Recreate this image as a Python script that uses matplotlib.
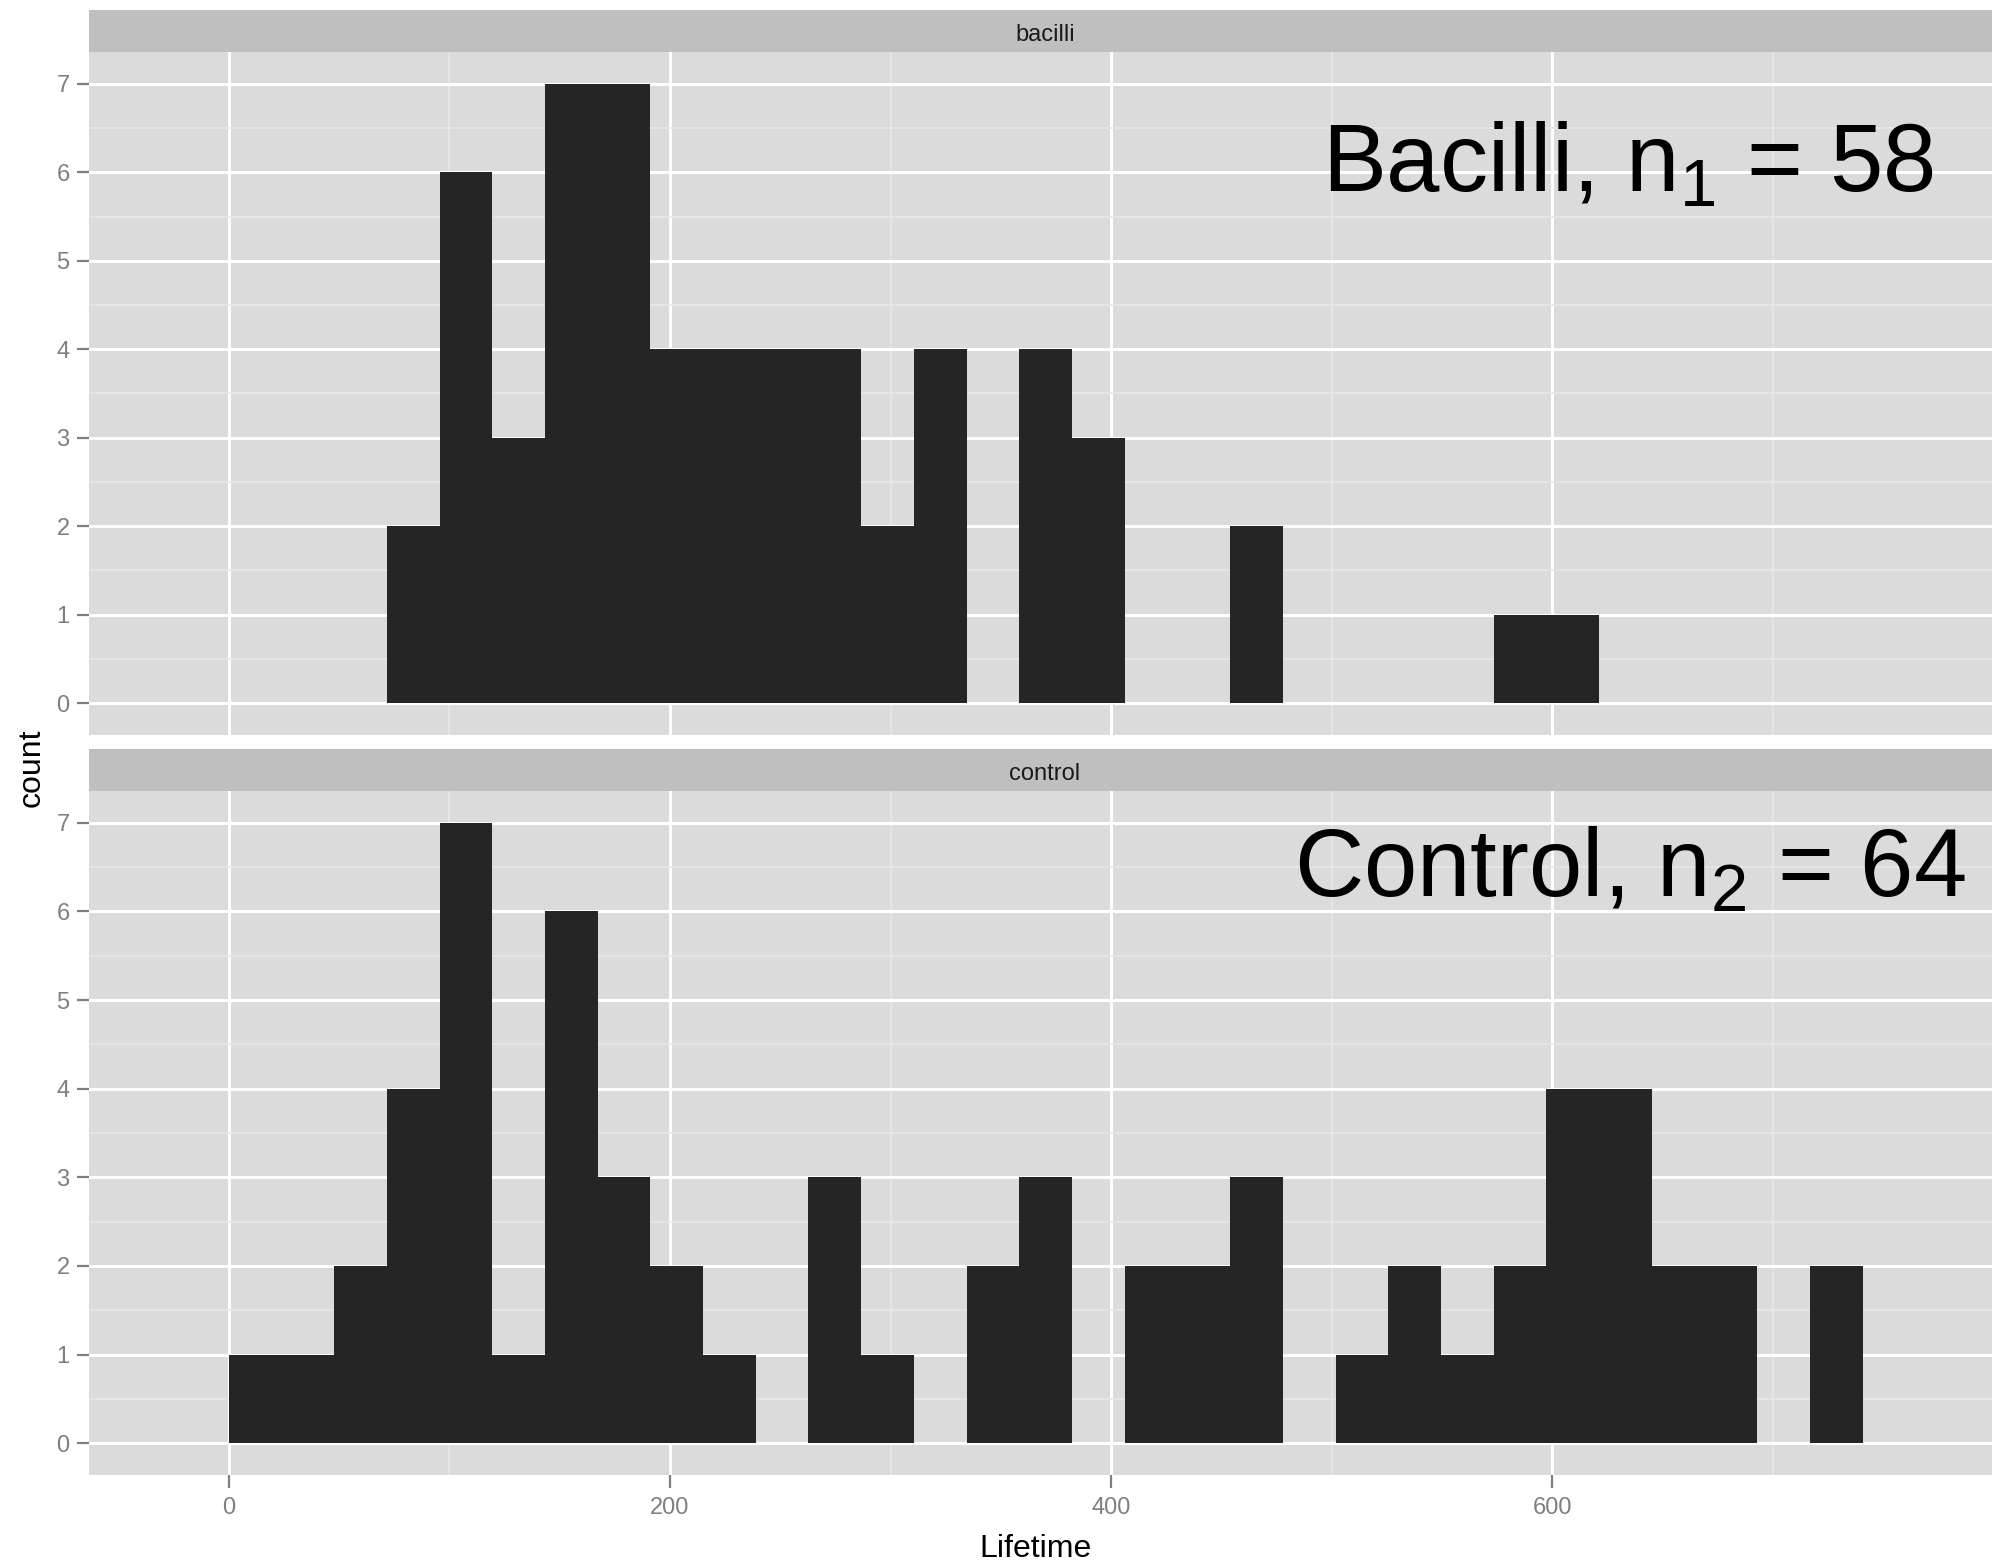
import numpy as np
import matplotlib
matplotlib.use("Agg")
import matplotlib.pyplot as plt

plt.rcParams['font.family'] = ['Liberation Sans', 'DejaVu Sans']
plt.rcParams['mathtext.fontset'] = 'custom'
plt.rcParams['mathtext.rm'] = 'Liberation Sans'

# histogram data (bin width ~23.9, first bin starts at 0)
bin_width = 23.89
bacilli_counts = [0, 0, 0, 2, 6, 3, 7, 7, 4, 4, 4, 4, 2, 4, 0, 4,
                  3, 0, 0, 2, 0, 0, 0, 0, 1, 1, 0, 0, 0, 0, 0]
control_counts = [1, 1, 2, 4, 7, 1, 6, 3, 2, 1, 0, 3, 1, 0, 2, 3,
                  0, 2, 2, 3, 0, 1, 2, 1, 2, 4, 4, 2, 2, 0, 2]
facets = ["bacilli", "control"]
labels = [r"Bacilli, $\mathregular{n_1}$ = 58", r"Control, $\mathregular{n_2}$ = 64"]
x_ticks = [0, 200, 400, 600]
y_ticks = [0, 1, 2, 3, 4, 5, 6, 7]

W, H = 1992, 1563
fig = plt.figure(figsize=(W / 200, H / 200), dpi=200)


def rect(left, top, right, bottom):
    return [left / W, 1 - bottom / H, (right - left) / W, (bottom - top) / H]


panel_box = [(52, 735), (791, 1475)]
strip_box = [(10, 52), (749, 791)]
label_pos = [(0.9695, 0.795), (0.986, 0.846)]

edges = np.arange(len(bacilli_counts)) * bin_width
for i, counts in enumerate([bacilli_counts, control_counts]):
    top, bottom = panel_box[i]
    ax = fig.add_axes(rect(89, top, W, bottom))
    ax.set_facecolor("#dbdbdb")
    ax.bar(edges, counts, width=bin_width, align="edge", color="#252525",
           linewidth=0, zorder=3)
    ax.set_xticks(x_ticks)
    ax.set_xticks([100, 300, 500, 700], minor=True)
    ax.set_yticks(y_ticks)
    ax.set_yticks(np.arange(0.5, 7.0, 1.0), minor=True)
    ax.set_xlim(-63.3, 799.2)
    ax.set_ylim(-0.36, 7.36)
    ax.grid(which="major", color="white", linewidth=1.1, zorder=1)
    ax.grid(which="minor", color="#e8e8e8", linewidth=0.6, zorder=1)
    ax.set_axisbelow(True)
    for s in ax.spines.values():
        s.set_visible(False)
    ax.tick_params(axis="both", which="major", colors="#7f7f7f", labelsize=8.5,
                   length=4.5, width=0.8)
    ax.tick_params(axis="y", pad=2.5)
    ax.tick_params(axis="x", pad=3.5)
    ax.tick_params(which="minor", length=0)
    if i == 0:
        ax.tick_params(axis="x", labelbottom=False, length=0)
    ax.text(label_pos[i][0], label_pos[i][1], labels[i], transform=ax.transAxes,
            ha="right", va="baseline", fontsize=34.5, color="black")

    st, sb = strip_box[i]
    sax = fig.add_axes(rect(89, st, W, sb))
    sax.set_facecolor("#bfbfbf")
    sax.set_xticks([])
    sax.set_yticks([])
    for s in sax.spines.values():
        s.set_visible(False)
    sax.text((1045 - 89) / (W - 89), 0.26, facets[i], transform=sax.transAxes,
             ha="center", va="baseline", fontsize=8.5, color="#1a1a1a")

fig.text(1035 / W, 1 - 1557 / H, "Lifetime", ha="center", va="baseline",
         fontsize=11.5, color="black")
fig.text(32 / W, 1 - 768 / H, "count", ha="center", va="center",
         rotation=90, fontsize=11.5, color="black")

fig.savefig("out.png", dpi=200)
